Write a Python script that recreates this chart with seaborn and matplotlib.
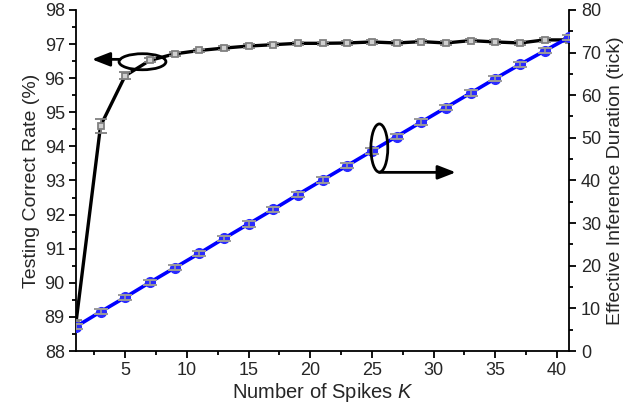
import numpy as np
import pandas as pd
import matplotlib
matplotlib.use("Agg")
import matplotlib.pyplot as plt
import seaborn as sns
from matplotlib.patches import Ellipse
from matplotlib.ticker import MultipleLocator

# Number of spikes K
spikes = [1, 3, 5, 7, 9, 11, 13, 15, 17, 19, 21, 23, 25, 27, 29, 31, 33, 35, 37, 39, 41]
# Testing correct rate (%) and its spread
accuracy = [88.80, 94.60, 96.07, 96.52, 96.71, 96.81, 96.88, 96.94, 96.98, 97.02, 97.02,
            97.03, 97.06, 97.03, 97.07, 97.03, 97.10, 97.06, 97.03, 97.12, 97.12]
accuracy_err = [0.10, 0.20, 0.10, 0.06, 0.05, 0.05, 0.05, 0.05, 0.05, 0.05, 0.05,
                0.05, 0.05, 0.05, 0.05, 0.05, 0.05, 0.05, 0.05, 0.05, 0.05]
# Effective inference duration (tick) and its spread
duration = [5.7, 9.2, 12.6, 16.1, 19.5, 22.9, 26.4, 29.8, 33.2, 36.7, 40.1,
            43.5, 46.9, 50.3, 53.7, 57.1, 60.5, 63.9, 67.2, 70.4, 73.6]
duration_err = [0.6] * 21

df = pd.DataFrame({"K": spikes, "acc": accuracy, "acc_err": accuracy_err,
                   "dur": duration, "dur_err": duration_err})

sns.set_theme(style="ticks")
plt.rcParams["font.family"] = ["Liberation Sans", "DejaVu Sans"]
plt.rcParams["mathtext.fontset"] = "custom"
plt.rcParams["mathtext.it"] = "Liberation Sans:italic"
plt.rcParams["mathtext.rm"] = "Liberation Sans"

fig = plt.figure(figsize=(6.27, 4.12), dpi=100)
ax = fig.add_axes([0.121, 0.148, 0.787, 0.828])
ax2 = ax.twinx()

# accuracy curve (left axis)
sns.lineplot(data=df, x="K", y="acc", ax=ax, color="black", lw=2.4, zorder=2)
ax.errorbar(df["K"], df["acc"], yerr=df["acc_err"], fmt="s", ms=4.5,
            mfc="#d0d0d0", mec="#808080", mew=1.3, ecolor="#808080",
            elinewidth=1.3, capsize=4.5, capthick=1.4, zorder=3)

# duration line (right axis)
sns.lineplot(data=df, x="K", y="dur", ax=ax2, color="#0000ff", lw=2.6, zorder=2)
ax2.plot(df["K"], df["dur"], "o", ms=7, color="#2a2aff", zorder=3)
ax2.errorbar(df["K"], df["dur"], yerr=df["dur_err"], fmt="none",
             ecolor="#9a9a9a", elinewidth=1.2, capsize=5, capthick=1.4, zorder=4)

ax.set_xlim(1, 41)
ax.set_ylim(88, 98)
ax2.set_ylim(0, 80)

ax.xaxis.set_major_locator(MultipleLocator(5))
ax.xaxis.set_minor_locator(MultipleLocator(2.5))
ax.yaxis.set_major_locator(MultipleLocator(1))
ax.yaxis.set_minor_locator(MultipleLocator(0.5))
ax2.yaxis.set_major_locator(MultipleLocator(10))
ax2.yaxis.set_minor_locator(MultipleLocator(5))

for a in (ax, ax2):
    a.spines["top"].set_visible(False)
    for s in a.spines.values():
        s.set_linewidth(1.3)
        s.set_color("black")
    a.tick_params(which="major", length=5, width=1.3, labelsize=13, color="black",
                  direction="out")
    a.tick_params(which="minor", length=3, width=1.3, color="black", direction="out")
ax.spines["right"].set_visible(False)
ax2.spines["left"].set_visible(False)
ax2.spines["bottom"].set_visible(False)
ax.tick_params(axis="both", pad=3)

ax.set_xlabel("Number of Spikes $\\mathit{K}$", fontsize=14.5, labelpad=1)
ax.set_ylabel("Testing Correct Rate (%)", fontsize=14, labelpad=3)
ax2.set_ylabel("Effective Inference Duration (tick)", fontsize=14, labelpad=4)

# markers tying each curve to its axis
ax.add_patch(Ellipse((6.4, 96.48), 3.8, 0.47, fill=False, lw=2, ec="black", zorder=5))
ax.annotate("", xy=(2.3, 96.55), xytext=(4.6, 96.55),
            arrowprops=dict(arrowstyle="-|>,head_length=0.9,head_width=0.35",
                            lw=2, color="black", shrinkA=0, shrinkB=0), zorder=5)
ax2.add_patch(Ellipse((25.6, 47.6), 1.37, 11.3, fill=False, lw=2, ec="black", zorder=5))
ax2.annotate("", xy=(31.8, 41.9), xytext=(25.6, 41.9),
             arrowprops=dict(arrowstyle="-|>,head_length=0.9,head_width=0.35",
                             lw=2, color="black", shrinkA=0, shrinkB=0), zorder=5)

fig.savefig("out.png", dpi=100)
